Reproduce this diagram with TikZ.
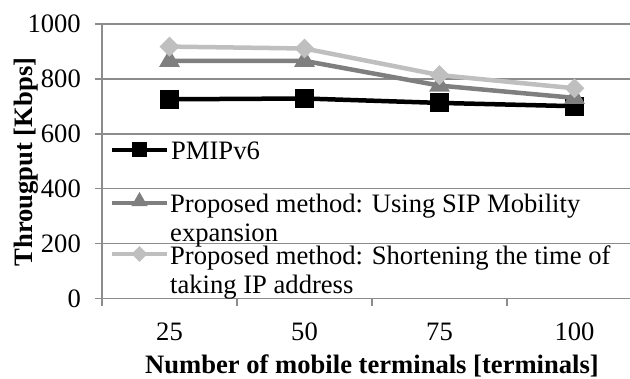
\documentclass[tikz,border=0pt]{standalone}
\usepackage{fontspec}
\setmainfont{Liberation Serif}
\usetikzlibrary{shapes.geometric}
\definecolor{gridc}{HTML}{8C8C8C}
\definecolor{sipc}{HTML}{7F7F7F}
\definecolor{shc}{HTML}{BFBFBF}
\begin{document}
\begin{tikzpicture}[x=1pt,y=-1pt,
  font=\fontsize{26.6}{29}\selectfont,
  gridline/.style={draw=gridc, line width=1.3pt},
  txt/.style={inner sep=0pt},
  series/.style={line width=4.5pt, line join=round},
  sqm/.style={rectangle, fill=black, minimum size=19pt, inner sep=0pt},
  trim/.style={regular polygon, regular polygon sides=3, fill=sipc, minimum size=24pt, inner sep=0pt},
  diam/.style={diamond, fill=shc, minimum size=20pt, inner sep=0pt}]
\useasboundingbox (0,0) rectangle (630,379);
% grid
\foreach \v/\yy in {1000/24, 800/79, 600/134, 400/188.5, 200/243.5} {
  \coordinate (gl\v) at (95,\yy);
  \coordinate (gr\v) at (630,\yy);
  \draw[gridline] (gl\v) -- (gr\v);
  \node[txt, anchor=east] (yl\v) at (81,\yy) {\v};
}
\coordinate (gl0) at (95,298.3);
\coordinate (gr0) at (630,298.3);
\draw[gridline] (gl0) -- (gr0);
\node[txt, anchor=east] (yl0) at (81,298.3) {0};
% left axis and ticks
\coordinate (axt) at (102,24);
\coordinate (axb) at (102,306);
\draw[gridline] (axt) -- (axb);
\foreach \xx [count=\i] in {237,372,507} {
  \coordinate (tt\i) at (\xx,298.3);
  \coordinate (tb\i) at (\xx,306);
  \draw[gridline] (tt\i) -- (tb\i);
}
% x labels
\foreach \lab/\xx in {25/169.5, 50/304.5, 75/439.5, 100/574.5} {
  \node[txt] (xl\lab) at (\xx,332) {\lab};
}
% axis titles
\node[txt, rotate=90, font=\fontsize{26.6}{29}\selectfont\bfseries] (ytitle) at (26,162) {Througput [Kbps]};
\node[txt, anchor=base, font=\fontsize{26.6}{29}\selectfont\bfseries] (xtitle) at (372,374) {Number of mobile terminals [terminals]};
% data points
\coordinate (p1) at (169.5,99.3);
\coordinate (p2) at (304.5,98.5);
\coordinate (p3) at (439.5,102.9);
\coordinate (p4) at (574.5,106.2);
\coordinate (s1) at (169.5,60.9);
\coordinate (s2) at (304.5,60.9);
\coordinate (s3) at (439.5,85.6);
\coordinate (s4) at (574.5,97.9);
\coordinate (h1) at (169.5,46.6);
\coordinate (h2) at (304.5,48.5);
\coordinate (h3) at (439.5,75.1);
\coordinate (h4) at (574.5,88.3);
% series
\draw[series, black] (p1) -- (p2) -- (p3) -- (p4);
\foreach \i in {1,...,4} \node[sqm] (pm\i) at (p\i) {};
\draw[series, sipc] (s1) -- (s2) -- (s3) -- (s4);
\foreach \i in {1,...,4} \node[trim] (sm\i) at (s\i) {};
\draw[series, shc] (h1) -- (h2) -- (h3) -- (h4);
\foreach \i in {1,...,4} \node[diam] (hm\i) at (h\i) {};
% legend
\coordinate (la1) at (112,150); \coordinate (lb1) at (167,150);
\draw[series, black] (la1) -- (lb1);
\node[sqm, minimum size=15pt] (lm1) at (139.5,150) {};
\node[txt, anchor=west] (lt1) at (171,151) {PMIPv6};
\coordinate (la2) at (112,203); \coordinate (lb2) at (167,203);
\draw[series, sipc] (la2) -- (lb2);
\node[trim, minimum size=19pt] (lm2) at (139.5,201.5) {};
\node[txt, anchor=west, align=left] (lt2) at (170,220.5) {Proposed method: Using SIP Mobility\\expansion};
\coordinate (la3) at (112,254); \coordinate (lb3) at (167,254);
\draw[series, shc] (la3) -- (lb3);
\node[diam, minimum size=16pt] (lm3) at (139.5,254) {};
\node[txt, anchor=west, align=left] (lt3) at (170,272.5) {Proposed method: Shortening the time of\\taking IP address};
\end{tikzpicture}
\end{document}
